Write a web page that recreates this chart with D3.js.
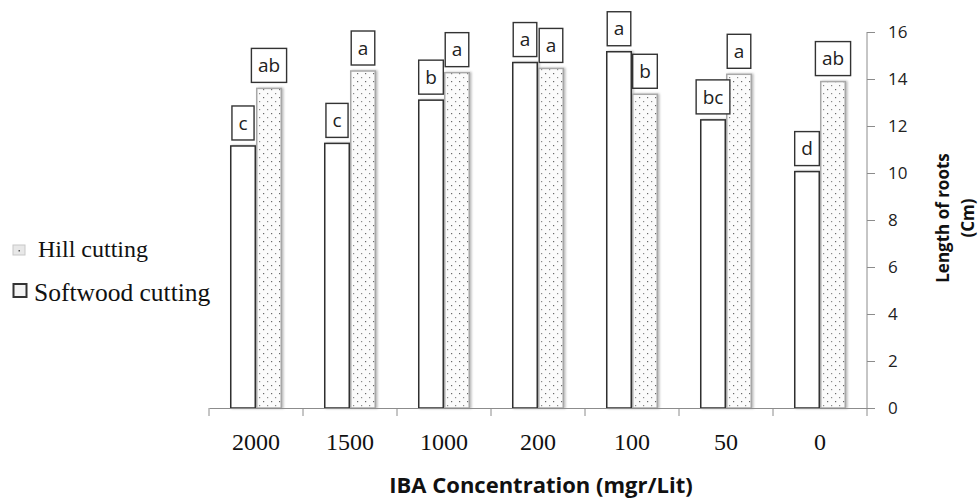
<!DOCTYPE html>
<html>
<head>
<meta charset="utf-8">
<script src="https://cdn.jsdelivr.net/npm/d3@7/dist/d3.min.js"></script>
<style>
  body { margin: 0; background: #fff; }
  svg { display: block; }
</style>
</head>
<body>
<div id="chart"></div>
<script>
// IBA concentrations (mgr/Lit), left to right
var concentrations = ["2000", "1500", "1000", "200", "100", "50", "0"];
var seriesNames = ["Softwood cutting", "Hill cutting"];

// root length (Cm)
var softwood = [11.15, 11.26, 13.1, 14.7, 15.16, 12.26, 10.06];
var hill = [13.6, 14.34, 14.27, 14.45, 13.35, 14.2, 13.89];

// significance letters above each bar
var softwoodLetters = ["c", "c", "b", "a", "a", "bc", "d"];
var hillLetters = ["ab", "a", "a", "a", "b", "a", "ab"];

var yTicks = [0, 2, 4, 6, 8, 10, 12, 14, 16];

var W = 980, H = 499;
var margin = {top: 32, right: 113, bottom: 91, left: 209},
    width = W - margin.left - margin.right,
    height = H - margin.top - margin.bottom;

var svg = d3.select("#chart").append("svg")
    .attr("width", W)
    .attr("height", H);

var defs = svg.append("defs");

// dotted fill for the hill cutting bars
var pat = defs.append("pattern")
    .attr("id", "dots")
    .attr("patternUnits", "userSpaceOnUse")
    .attr("width", 8).attr("height", 8);
pat.append("rect").attr("width", 8).attr("height", 8).attr("fill", "#fbfbfb");
pat.append("rect").attr("x", 1).attr("y", 1).attr("width", 1.2).attr("height", 1.2).attr("fill", "#666");
pat.append("rect").attr("x", 5).attr("y", 5).attr("width", 1.2).attr("height", 1.2).attr("fill", "#888");

var shadow = defs.append("filter")
    .attr("id", "shadow")
    .attr("x", "-30%").attr("y", "-10%")
    .attr("width", "160%").attr("height", "120%");
shadow.append("feDropShadow")
    .attr("dx", 1.5).attr("dy", 0)
    .attr("stdDeviation", 1.3)
    .attr("flood-color", "#000")
    .attr("flood-opacity", 0.28);

var g = svg.append("g")
    .attr("transform", "translate(" + margin.left + "," + margin.top + ")");

// scales
var x0 = d3.scaleBand()
    .domain(concentrations)
    .range([0, width])
    .paddingInner(0.447)
    .paddingOuter(0.2235);

var x1 = d3.scaleBand()
    .domain(seriesNames)
    .range([0, x0.bandwidth()]);

var y = d3.scaleLinear()
    .domain([0, 16])
    .range([height, 0]);

var data = concentrations.map(function(c, i) {
    return {
        conc: c,
        bars: [
            {series: seriesNames[0], value: softwood[i], letter: softwoodLetters[i]},
            {series: seriesNames[1], value: hill[i], letter: hillLetters[i]}
        ]
    };
});

// bars
var groups = g.selectAll(".group")
    .data(data)
    .enter().append("g")
    .attr("class", "group")
    .attr("transform", function(d) { return "translate(" + x0(d.conc) + ",0)"; });

groups.selectAll("rect.bar")
    .data(function(d) { return d.bars; })
    .enter().append("rect")
    .attr("class", "bar")
    .attr("x", function(d) { return x1(d.series) + 0.75; })
    .attr("width", x1.bandwidth() - 1.5)
    .attr("y", function(d) { return y(d.value); })
    .attr("height", function(d) { return y(0) - y(d.value); })
    .attr("fill", function(d) { return d.series == seriesNames[0] ? "#fff" : "url(#dots)"; })
    .attr("stroke", function(d) { return d.series == seriesNames[0] ? "#303030" : "#a8a8a8"; })
    .attr("stroke-width", 1.5)
    .attr("filter", "url(#shadow)");

// letter boxes
var labels = groups.selectAll("g.lab")
    .data(function(d) { return d.bars; })
    .enter().append("g")
    .attr("class", "lab");

labels.append("rect")
    .attr("fill", "#fff")
    .attr("stroke", "#333")
    .attr("stroke-width", 1.4);

labels.append("text")
    .attr("x", function(d) { return x1(d.series) + x1.bandwidth() / 2; })
    .attr("y", function(d) { return y(d.value) - 6 - 17; })
    .attr("dy", "0.35em")
    .attr("text-anchor", "middle")
    .style("font-family", "'Open Sans', sans-serif")
    .style("font-size", "19px")
    .style("fill", "#222")
    .text(function(d) { return d.letter; });

labels.each(function(d) {
    var t = d3.select(this).select("text");
    var tw = t.node().getComputedTextLength();
    var bw = tw + 13;
    var cx = x1(d.series) + x1.bandwidth() / 2;
    d3.select(this).select("rect")
        .attr("x", cx - bw / 2)
        .attr("width", bw)
        .attr("y", y(d.value) - 6 - 34)
        .attr("height", 34);
});

// x axis: labels at category centres, ticks at category boundaries
var xAxis = d3.axisBottom(x0).tickSize(0).tickPadding(25);
var xg = g.append("g")
    .attr("class", "axis")
    .attr("transform", "translate(0," + height + ")")
    .call(xAxis);
xg.select(".domain").attr("stroke", "#8c8c8c");
xg.selectAll("text")
    .style("font-family", "'Liberation Serif', 'Times New Roman', serif")
    .style("font-size", "24px")
    .style("fill", "#111");

var bounds = d3.range(concentrations.length + 1).map(function(i) { return i * x0.step(); });
xg.selectAll("line.bound")
    .data(bounds)
    .enter().append("line")
    .attr("class", "bound")
    .attr("x1", function(d) { return d; })
    .attr("x2", function(d) { return d; })
    .attr("y1", 0)
    .attr("y2", 8)
    .attr("stroke", "#8c8c8c");

// y axis on the right
var yAxis = d3.axisRight(y).tickValues(yTicks).tickSize(8).tickPadding(13);
var yg = g.append("g")
    .attr("class", "axis")
    .attr("transform", "translate(" + width + ",0)")
    .call(yAxis);
yg.select(".domain").attr("stroke", "#8c8c8c").attr("d", "M0," + y(16) + "V" + y(0));
yg.selectAll(".tick line").attr("stroke", "#8c8c8c");
yg.selectAll("text")
    .style("font-family", "'Open Sans', sans-serif")
    .style("font-size", "17px")
    .style("fill", "#222");

// axis titles
svg.append("text")
    .attr("transform", "translate(943,218) rotate(-90)")
    .attr("text-anchor", "middle")
    .attr("dy", "0.35em")
    .style("font-family", "'Open Sans', sans-serif")
    .style("font-weight", "bold")
    .style("font-size", "17px")
    .style("fill", "#111")
    .text("Length of roots");

svg.append("text")
    .attr("transform", "translate(968,218) rotate(-90)")
    .attr("text-anchor", "middle")
    .attr("dy", "0.35em")
    .style("font-family", "'Open Sans', sans-serif")
    .style("font-weight", "bold")
    .style("font-size", "17px")
    .style("fill", "#111")
    .text("(Cm)");

svg.append("text")
    .attr("x", 541)
    .attr("y", 493)
    .attr("text-anchor", "middle")
    .style("font-family", "'Open Sans', sans-serif")
    .style("font-weight", "bold")
    .style("font-size", "22px")
    .style("fill", "#111")
    .text("IBA Concentration (mgr/Lit)");

// legend
var legend = svg.append("g").attr("class", "legend");
var legendItems = [
    {name: seriesNames[1], y: 257, x: 38, size: 24},
    {name: seriesNames[0], y: 301, x: 34, size: 25.5}
];

legend.selectAll("text")
    .data(legendItems)
    .enter().append("text")
    .attr("x", function(d) { return d.x; })
    .attr("y", function(d) { return d.y; })
    .style("font-family", "'Liberation Serif', 'Times New Roman', serif")
    .style("font-size", function(d) { return d.size + "px"; })
    .style("fill", "#111")
    .text(function(d) { return d.name; });

legend.append("rect")
    .attr("x", 13).attr("y", 245)
    .attr("width", 12).attr("height", 10)
    .attr("fill", "#e8e8e8")
    .attr("stroke", "#c8c8c8");
legend.append("rect")
    .attr("x", 18.5).attr("y", 250)
    .attr("width", 1.5).attr("height", 1.5)
    .attr("fill", "#555");
legend.append("rect")
    .attr("x", 13.5).attr("y", 284)
    .attr("width", 13).attr("height", 13)
    .attr("fill", "#f4f4f4")
    .attr("stroke", "#333")
    .attr("stroke-width", 2);
</script>
</body>
</html>
